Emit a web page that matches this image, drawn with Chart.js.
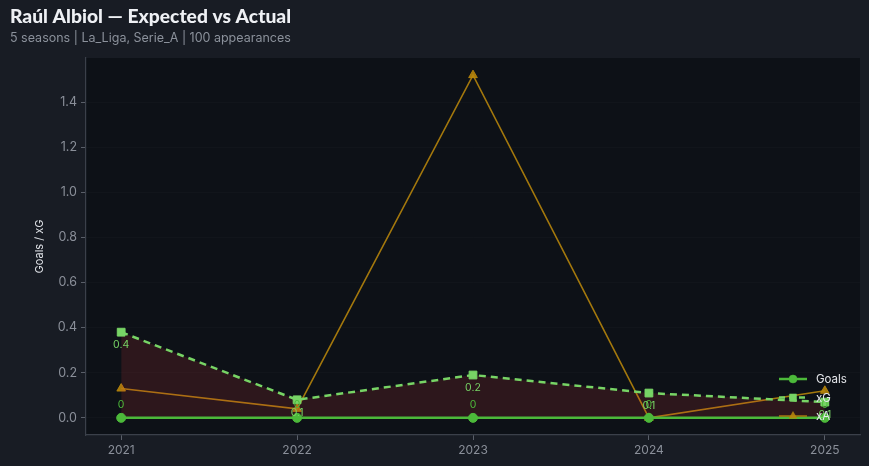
<!DOCTYPE html>
<html>
<head>
<meta charset="utf-8">
<script src="https://cdn.jsdelivr.net/npm/chart.js@4.4.1/dist/chart.umd.min.js"></script>
<style>
html,body{margin:0;padding:0;background:#181c24;}
#wrap{width:869px;height:466px;position:relative;}
canvas{display:block;}
</style>
</head>
<body>
<div id="wrap"><canvas id="c" width="869" height="466"></canvas></div>
<script>
const seasons = [2021, 2022, 2023, 2024, 2025];
const goals = [0, 0, 0, 0, 0];
const xg = [0.38, 0.08, 0.19, 0.11, 0.07];
const xa = [0.13, 0.04, 1.52, 0.0, 0.12];
const yTicks = [0.0, 0.2, 0.4, 0.6, 0.8, 1.0, 1.2, 1.4];
const titleText = "Raúl Albiol — Expected vs Actual";
const subtitleText = "5 seasons | La_Liga, Serie_A | 100 appearances";
const yTitle = "Goals / xG";

const C_GOALS = '#4cb93a';
const C_XG = '#77d465';
const C_XA = 'rgba(184,134,11,0.88)';

const toPts = arr => arr.map((v, i) => ({x: seasons[i], y: v}));

const headerPlugin = {
  id: 'header',
  afterDraw(chart) {
    const ctx = chart.ctx;
    ctx.save();
    ctx.textBaseline = 'alphabetic';
    ctx.textAlign = 'left';
    let size = 16;
    ctx.font = `900 ${size}px Lato`;
    const w = ctx.measureText(titleText).width;
    size = size * 281 / w;
    ctx.font = `900 ${size.toFixed(2)}px Lato`;
    ctx.fillStyle = '#eef0f4';
    ctx.fillText(titleText, 10, 23);
    ctx.font = '12.5px Inter';
    ctx.fillStyle = '#8b919b';
    ctx.fillText(subtitleText, 10, 42);
    const a = chart.chartArea;
    ctx.translate(40, (a.top + a.bottom) / 2);
    ctx.rotate(-Math.PI / 2);
    ctx.font = '11px Inter';
    ctx.fillStyle = '#dfe2e7';
    ctx.textAlign = 'center';
    ctx.textBaseline = 'middle';
    ctx.fillText(yTitle, 0, 0);
    ctx.restore();
  }
};

const labelsPlugin = {
  id: 'ptlabels',
  afterDatasetsDraw(chart) {
    const ctx = chart.ctx;
    ctx.save();
    ctx.font = '10.5px Inter';
    ctx.textAlign = 'center';
    ctx.textBaseline = 'middle';
    chart.getDatasetMeta(0).data.forEach((p, i) => {
      ctx.fillStyle = C_GOALS;
      ctx.fillText(String(goals[i]), p.x, p.y - 13);
    });
    chart.getDatasetMeta(1).data.forEach((p, i) => {
      ctx.fillStyle = C_XG;
      ctx.fillText(xg[i].toFixed(1), p.x, p.y + 13);
    });
    ctx.restore();
  }
};

const legendPlugin = {
  id: 'inlegend',
  afterDraw(chart) {
    const ctx = chart.ctx;
    const items = [
      {label: 'Goals', color: C_GOALS, style: 'circle', dash: [], w: 2.5, r: 4},
      {label: 'xG', color: C_XG, style: 'rect', dash: [6, 4], w: 2.5, r: 5},
      {label: 'xA', color: C_XA, style: 'triangle', dash: [], w: 1.5, r: 4.5}
    ];
    ctx.save();
    items.forEach((it, k) => {
      const y = 379 + k * 18.5;
      ctx.strokeStyle = it.color;
      ctx.lineWidth = it.w;
      ctx.setLineDash(it.dash);
      ctx.beginPath();
      ctx.moveTo(779, y);
      ctx.lineTo(807, y);
      ctx.stroke();
      ctx.setLineDash([]);
      ctx.fillStyle = it.color;
      ctx.lineWidth = 0.5;
      Chart.helpers.drawPoint(ctx, {pointStyle: it.style, radius: it.r, borderWidth: 0.5}, 793, y);
      ctx.font = '11.5px Inter';
      ctx.fillStyle = '#e6e8ec';
      ctx.textBaseline = 'middle';
      ctx.textAlign = 'left';
      ctx.fillText(it.label, 816, y + 1);
    });
    ctx.restore();
  }
};

const plotBg = {
  id: 'plotbg',
  beforeDraw(chart) {
    const a = chart.chartArea;
    const ctx = chart.ctx;
    ctx.save();
    ctx.fillStyle = '#181c24';
    ctx.fillRect(0, 0, chart.width, chart.height);
    ctx.fillStyle = '#0d1117';
    ctx.fillRect(a.left, a.top, a.right - a.left, a.bottom - a.top);
    ctx.restore();
  }
};

new Chart(document.getElementById('c'), {
  type: 'line',
  data: {
    datasets: [
      {
        label: 'Goals', data: toPts(goals), borderColor: C_GOALS, backgroundColor: C_GOALS,
        borderWidth: 2.5, pointStyle: 'circle', pointRadius: 4.5, pointBorderWidth: 1, pointBackgroundColor: C_GOALS,
        pointBorderColor: C_GOALS, tension: 0, fill: false, order: 1
      },
      {
        label: 'xG', data: toPts(xg), borderColor: C_XG, borderDash: [7, 5], borderWidth: 2.5,
        pointStyle: 'rect', pointRadius: 5.5, pointBorderWidth: 1, pointBackgroundColor: C_XG, pointBorderColor: C_XG,
        tension: 0, fill: {target: 0}, backgroundColor: 'rgba(230,60,60,0.15)', order: 2
      },
      {
        label: 'xA', data: toPts(xa), borderColor: C_XA, borderWidth: 1.6,
        pointStyle: 'triangle', pointRadius: 5, pointBorderWidth: 1, pointBackgroundColor: C_XA, pointBorderColor: C_XA,
        tension: 0, fill: false, order: 3
      }
    ]
  },
  options: {
    responsive: false,
    animation: false,
    layout: {padding: {top: 58, right: 9, left: 0, bottom: 0}},
    plugins: {legend: {display: false}, title: {display: false}, tooltip: {enabled: false}},
    scales: {
      x: {
        type: 'linear', min: 2020.8, max: 2025.2,
        afterBuildTicks(s) { s.ticks = seasons.map(v => ({value: v})); },
        afterFit(s) { s.height = 31; },
        ticks: {color: '#8a8f99', font: {family: 'Inter', size: 12}, padding: 3, callback: v => String(v)},
        grid: {display: true, drawOnChartArea: false, tickLength: 5, tickColor: '#5a5f69', tickWidth: 1},
        border: {color: '#3b404a', width: 1.2}
      },
      y: {
        min: -0.076, max: 1.596,
        afterBuildTicks(s) { s.ticks = yTicks.map(v => ({value: v})); },
        afterFit(s) { s.width = 86; },
        ticks: {color: '#8a8f99', font: {family: 'Inter', size: 12.5}, padding: 4, callback: v => Number(v).toFixed(1)},
        grid: {color: 'rgba(255,255,255,0.018)', tickLength: 5, tickColor: '#5a5f69', tickWidth: 1},
        border: {color: '#3b404a', width: 1.2},
        title: {display: false}
      }
    }
  },
  plugins: [plotBg, labelsPlugin, legendPlugin, headerPlugin]
});
</script>
</body>
</html>
